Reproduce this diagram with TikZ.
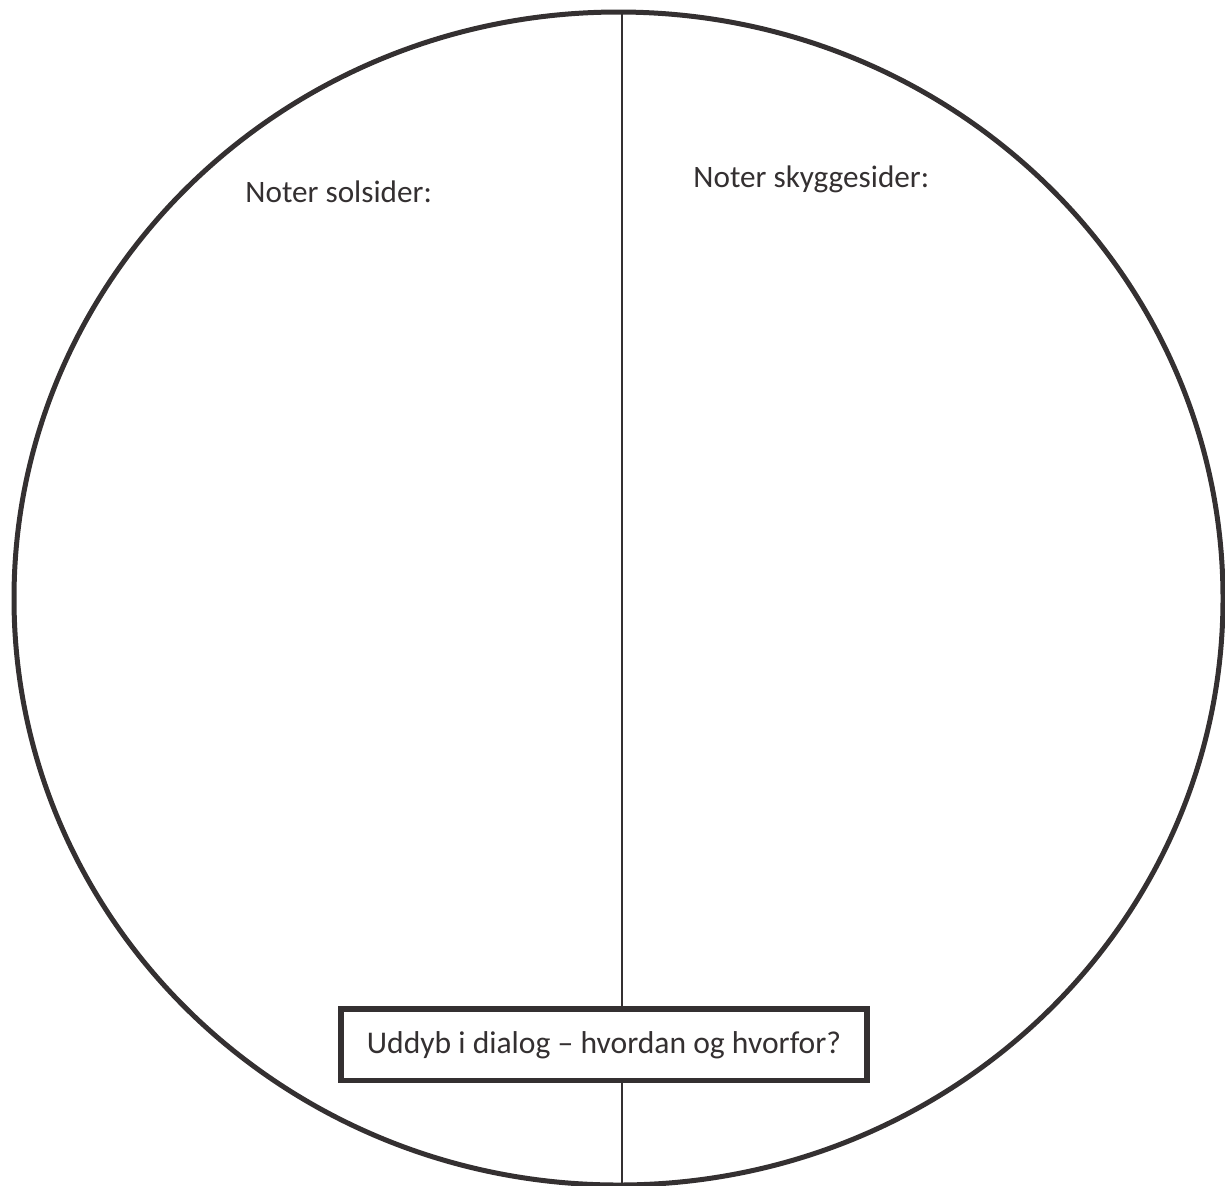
\documentclass[tikz,border=0pt]{standalone}
\usepackage{fontspec}
\setmainfont{Carlito}
\definecolor{ink}{RGB}{52,48,49}
\tikzset{
  notelabel/.style={font=\fontsize{15.6}{18}\selectfont, text=ink, anchor=base west, inner sep=0pt},
  askbox/.style={draw=ink, line width=2.6pt, fill=white, font=\fontsize{15.8}{18}\selectfont, text=ink,
                 minimum width=263pt, minimum height=35.75pt, inner sep=0pt}
}
\begin{document}
\begin{tikzpicture}[x=0.5pt, y=-0.5pt]
  \useasboundingbox (0,0) rectangle (1225,1185);
  \clip (0,0) rectangle (1225,1185);
  % outer circle
  \draw[ink, line width=2.5pt] (618.5,598.5) ellipse [x radius=604.5, y radius=586.5];
  % divider
  \coordinate (top) at (622,12);
  \coordinate (bot) at (622,1190);
  \draw[ink, line width=0.75pt] (top) -- (bot);
  % headings
  \node[notelabel] (sol) at (245,202) {Noter solsider:};
  \node[notelabel] (skygge) at (693,187) {Noter skyggesider:};
  % question box
  \node[askbox] (uddyb) at (604,1044.75) {Uddyb i dialog – hvordan og hvorfor?};
\end{tikzpicture}
\end{document}
